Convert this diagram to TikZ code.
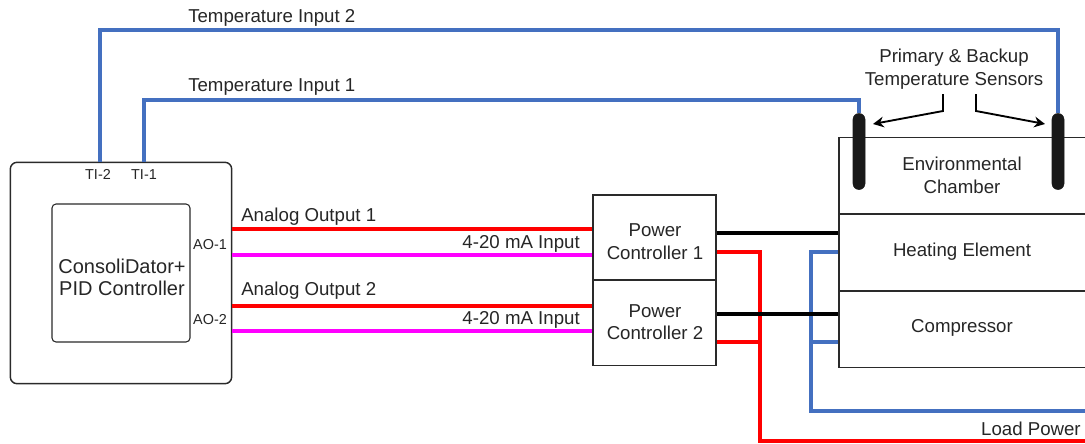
\documentclass[tikz,border=0pt]{standalone}
\usepackage{fontspec}
\setmainfont{Liberation Sans}
\usepackage{xcolor}
\usetikzlibrary{arrows.meta, positioning}

\definecolor{wireblue}{HTML}{4470C0}
\definecolor{wirered}{HTML}{FF0000}
\definecolor{wirepink}{HTML}{FF00FF}
\definecolor{edgegray}{HTML}{2A2A2A}

\tikzset{
    box/.style={draw=edgegray, line width=1.1pt, align=center, inner sep=0pt, text=edgegray},
    wire/.style={line width=2.4pt, miter limit=2},
    lbl/.style={inner sep=0pt, align=center, text=black!85},
    tag/.style={lbl, font=\fontsize{10.8}{12}\selectfont},
    sensor/.style={fill=black!90, draw=black!90, rounded corners=4.4pt, minimum width=9pt, minimum height=57pt, inner sep=0pt},
    callout/.style={-{Stealth[length=8pt, width=8pt]}, line width=1.4pt, black}
}

\begin{document}
\begin{tikzpicture}[x=0.75pt, y=-0.75pt, font=\fontsize{14}{17}\selectfont]
    \useasboundingbox (0,0) rectangle (1085,443);

    % Left side: PID controller
    \node[box, rounded corners=5pt, minimum width=166pt, minimum height=166pt] (PID) at (121,273) {};
    \node[box, rounded corners=3pt, line width=0.8pt, minimum width=103.5pt, minimum height=103.5pt] (Core) at (121,273) {};
    \node[lbl, font=\fontsize{15}{17}\selectfont] (CoreText) at (122,277.5) {ConsoliDator+\\PID Controller};
    \node[tag] (TI2) at (98,174.5) {TI-2};
    \node[tag] (TI1) at (144,174.5) {TI-1};
    \node[tag] (AO1) at (210,244.5) {AO-1};
    \node[tag] (AO2) at (210,319.5) {AO-2};

    % Middle: power controllers
    \node[box, minimum width=92pt, minimum height=64pt] (PC1) at (654.5,237.5) {};
    \node[box, minimum width=92pt, minimum height=64pt] (PC2) at (654.5,323) {};
    \node[lbl] (PC1Text) at (655,241.5) {Power\\Controller 1};
    \node[lbl] (PC2Text) at (655,322) {Power\\Controller 2};

    % Right side: chamber stack, right edge runs off the page
    \node[box, minimum width=185pt, minimum height=57.5pt] (Chamber) at (962.5,176) {};
    \node[box, minimum width=185pt, minimum height=57.5pt] (Heater) at (962.5,252.5) {};
    \node[box, minimum width=185pt, minimum height=57.5pt] (Comp) at (962.5,329) {};
    \node[lbl] (ChamberText) at (962,175) {Environmental\\Chamber};
    \node[lbl] (HeaterText) at (962,252) {Heating Element};
    \node[lbl] (CompText) at (962,327.5) {Compressor};

    % Sensors
    \node[sensor] (Sensor1) at (859,151.5) {};
    \node[sensor] (Sensor2) at (1058,151.5) {};

    % Labels
    \node[lbl, anchor=west] (Temp2) at (188,18) {Temperature Input 2};
    \node[lbl, anchor=west] (Temp1) at (188,87) {Temperature Input 1};
    \node[lbl, anchor=west] (Out1) at (241,217) {Analog Output 1};
    \node[lbl, anchor=west] (Out2) at (241,291) {Analog Output 2};
    \node[lbl, anchor=east] (In1) at (580,244) {4-20 mA Input};
    \node[lbl, anchor=east] (In2) at (580,319.5) {4-20 mA Input};
    \node[lbl, anchor=east] (Load) at (1081,428.5) {Load Power};
    \node[lbl] (SensorText) at (954,69) {Primary \& Backup\\Temperature Sensors};

    % Free ends and wire heights
    \coordinate (Top2) at (100,30);
    \coordinate (Top1) at (144,100);
    \coordinate (Red1) at (400,229);
    \coordinate (Pink1) at (400,255);
    \coordinate (Red2) at (400,306);
    \coordinate (Pink2) at (400,331);
    \coordinate (Blk1) at (780,233);
    \coordinate (Blk2) at (780,314);
    \coordinate (Pwr1) at (760,252);
    \coordinate (Pwr2) at (760,342);
    \coordinate (PwrEnd) at (1086,441);
    \coordinate (Ret1) at (811,252);
    \coordinate (Ret2) at (811,342);
    \coordinate (RetEnd) at (1086,411);
    \coordinate (Call1) at (943,94);
    \coordinate (Call2) at (976,94);
    \coordinate (Bend1) at (943,111);
    \coordinate (Bend2) at (976,111);
    \coordinate (Tip1) at (873,124);
    \coordinate (Tip2) at (1045,124);

    % Temperature inputs
    \draw[wire, wireblue] (Top2 |- PID.north) -- (Top2) -| (Sensor2.north);
    \draw[wire, wireblue] (Top1 |- PID.north) -- (Top1) -| (Sensor1.north);

    % Analog outputs
    \draw[wire, wirered] (PID.east |- Red1) -- (PC1.west |- Red1);
    \draw[wire, wirepink] (PID.east |- Pink1) -- (PC1.west |- Pink1);
    \draw[wire, wirered] (PID.east |- Red2) -- (PC2.west |- Red2);
    \draw[wire, wirepink] (PID.east |- Pink2) -- (PC2.west |- Pink2);

    % Load power and returns
    \draw[wire, wirered] (PC1.east |- Pwr1) -- (Pwr1) |- (PwrEnd);
    \draw[wire, wirered] (PC2.east |- Pwr2) -- (Pwr2);
    \draw[wire, wireblue] (Heater.west |- Ret1) -- (Ret1) |- (RetEnd);
    \draw[wire, wireblue] (Comp.west |- Ret2) -- (Ret2);
    \draw[wire, black] (PC1.east |- Blk1) -- (Heater.west |- Blk1);
    \draw[wire, black] (PC2.east |- Blk2) -- (Comp.west |- Blk2);

    % Sensor callouts
    \draw[callout] (Call1) -- (Bend1) -- (Tip1);
    \draw[callout] (Call2) -- (Bend2) -- (Tip2);
\end{tikzpicture}
\end{document}
